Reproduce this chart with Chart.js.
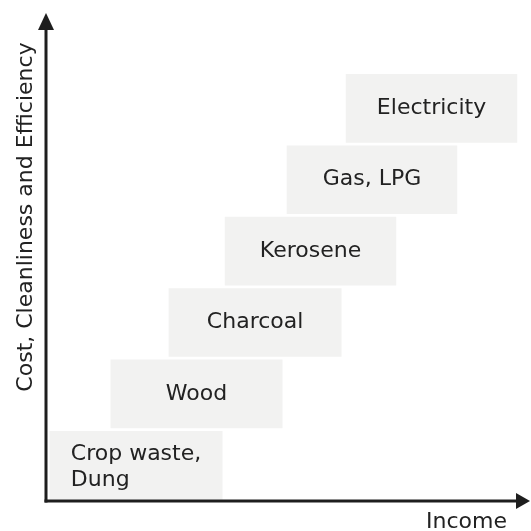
<!DOCTYPE html>
<html>
<head>
<meta charset="utf-8">
<script src="https://cdn.jsdelivr.net/npm/chart.js@4"></script>
<style>
  html, body { margin: 0; padding: 0; background: #ffffff; }
  #wrap { width: 531px; height: 531px; }
</style>
</head>
<body>
<div id="wrap"><canvas id="c" width="531" height="531"></canvas></div>
<script>
// Energy ladder: fuel categories, their level (rung) and income range (start/end)
const categories = ["Crop waste,\nDung", "Wood", "Charcoal", "Kerosene", "Gas, LPG", "Electricity"];
const levels = [0.5, 1.5, 2.5, 3.5, 4.5, 5.5];
const incomeStart = [0.8, 13.4, 25.4, 37.0, 49.8, 62.0];
const incomeEnd = [36.4, 48.8, 61.0, 72.3, 84.9, 97.3];
const xAxisTitle = "Income";
const yAxisTitle = "Cost, Cleanliness and Efficiency";

const FONT = '"DejaVu Sans", Verdana, sans-serif';
const INK = '#1e1e1e';

const data = categories.map((c, i) => ({ y: levels[i], x: [incomeStart[i], incomeEnd[i]] }));

const ladderPlugin = {
  id: 'ladder',
  afterDatasetsDraw(chart) {
    const ctx = chart.ctx;
    const meta = chart.getDatasetMeta(0);
    ctx.save();
    ctx.fillStyle = '#222222';
    ctx.font = '22px ' + FONT;
    ctx.textBaseline = 'middle';
    meta.data.forEach((el, i) => {
      const lines = categories[i].split('\n');
      const cx = (el.x + el.base) / 2;
      const widths = lines.map(l => ctx.measureText(l).width);
      const w = Math.max(...widths);
      const lh = 26;
      const y0 = el.y - (lines.length - 1) * lh / 2 + (lines.length > 1 ? 2 : 0);
      ctx.textAlign = 'left';
      lines.forEach((l, j) => {
        const x = lines.length > 1 ? cx - w / 2 : cx - widths[j] / 2;
        ctx.fillText(l, x, y0 + j * lh);
      });
    });
    ctx.restore();
  },
  afterDraw(chart) {
    const { ctx, chartArea: a } = chart;
    ctx.save();
    ctx.strokeStyle = INK;
    ctx.fillStyle = INK;
    ctx.lineWidth = 3;
    // y axis
    ctx.beginPath();
    ctx.moveTo(a.left, a.bottom + 1.5);
    ctx.lineTo(a.left, a.top + 12);
    ctx.stroke();
    ctx.beginPath();
    ctx.moveTo(a.left, a.top);
    ctx.lineTo(a.left - 8, a.top + 17);
    ctx.lineTo(a.left + 8, a.top + 17);
    ctx.closePath();
    ctx.fill();
    // x axis
    ctx.beginPath();
    ctx.moveTo(a.left - 1.5, a.bottom);
    ctx.lineTo(a.right - 12, a.bottom);
    ctx.stroke();
    ctx.beginPath();
    ctx.moveTo(a.right, a.bottom);
    ctx.lineTo(a.right - 14, a.bottom - 8);
    ctx.lineTo(a.right - 14, a.bottom + 8);
    ctx.closePath();
    ctx.fill();
    // titles
    ctx.fillStyle = '#222222';
    ctx.font = '22px ' + FONT;
    ctx.textAlign = 'right';
    ctx.textBaseline = 'middle';
    ctx.fillText(xAxisTitle, a.right - 23, a.bottom + 21);
    ctx.translate(26, 217);
    ctx.rotate(-Math.PI / 2);
    ctx.textAlign = 'center';
    ctx.fillText(yAxisTitle, 0, 0);
    ctx.restore();
  }
};

new Chart(document.getElementById('c'), {
  type: 'bar',
  data: {
    datasets: [{
      data: data,
      backgroundColor: '#f2f2f1',
      borderWidth: 0,
      barThickness: 68
    }]
  },
  options: {
    indexAxis: 'y',
    responsive: false,
    animation: false,
    layout: { padding: { left: 46, top: 13, right: 1, bottom: 30 } },
    plugins: { legend: { display: false }, tooltip: { enabled: false } },
    scales: {
      x: { type: 'linear', min: 0, max: 100, display: false, offset: false },
      y: { type: 'linear', min: 0, max: 6.835, display: false, offset: false }
    }
  },
  plugins: [ladderPlugin]
});
</script>
</body>
</html>
